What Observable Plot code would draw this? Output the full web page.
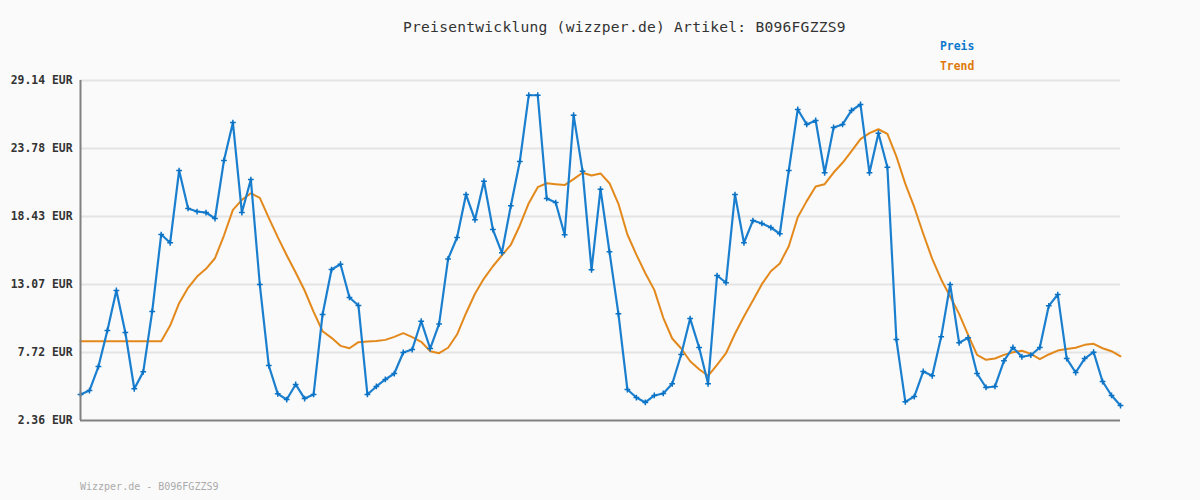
<!DOCTYPE html>
<html>
<head>
<meta charset="utf-8">
<script src="https://cdn.jsdelivr.net/npm/d3@7"></script>
<script src="https://cdn.jsdelivr.net/npm/@observablehq/plot@0.6"></script>
<style>
  html, body { margin: 0; padding: 0; background: #fafafa; }
  #wrap { position: relative; width: 1200px; height: 500px; background: #fafafa; font-family: "DejaVu Sans Mono", monospace; }
  .t { position: absolute; white-space: nowrap; line-height: 1; }
  #title { left: 403px; top: 20px; font-size: 14.6px; letter-spacing: 0.25px; color: #333; }
  #lp { left: 940px; top: 41px; font-size: 11.4px; font-weight: bold; color: #0a78cc; }
  #lt { left: 940px; top: 61px; font-size: 11.4px; font-weight: bold; color: #df7a0a; }
  #foot { left: 80px; top: 482px; font-size: 10px; color: #aaa; }
  #chart { position: absolute; left: 0; top: 0; }
</style>
</head>
<body>
<div id="wrap">
  <div id="chart"></div>
  <div class="t" id="title">Preisentwicklung (wizzper.de) Artikel: B096FGZZS9</div>
  <div class="t" id="lp">Preis</div>
  <div class="t" id="lt">Trend</div>
  <div class="t" id="foot">Wizzper.de - B096FGZZS9</div>
</div>
<script>
const yTicks = [2.36, 7.72, 13.07, 18.43, 23.78, 29.14];

const preis = [
  4.41, 4.72, 6.61, 9.45, 12.6, 9.29, 4.86, 6.19, 10.95, 17.01,
  16.36, 22.05, 19.06, 18.82, 18.74, 18.27, 22.84, 25.83, 18.74, 21.34,
  13.07, 6.69, 4.46, 4.01, 5.20, 4.09, 4.41, 10.71, 14.25, 14.67,
  12.05, 11.42, 4.41, 5.04, 5.59, 6.06, 7.72, 7.95, 10.18, 8.03,
  9.97, 15.09, 16.77, 20.16, 18.17, 21.21, 17.40, 15.57, 19.27, 22.76,
  27.98, 27.98, 19.85, 19.53, 16.99, 26.41, 22.0, 14.23, 20.58, 15.65,
  10.76, 4.80, 4.17, 3.78, 4.33, 4.49, 5.25, 7.56, 10.39, 8.11,
  5.25, 13.78, 13.21, 20.16, 16.36, 18.11, 17.88, 17.56, 17.07, 22.05,
  26.86, 25.68, 25.99, 21.87, 25.44, 25.68, 26.78, 27.25, 21.87, 24.99,
  22.31, 8.74, 3.83, 4.25, 6.22, 5.88, 8.95, 13.07, 8.48, 8.87,
  6.06, 4.96, 5.04, 7.06, 8.11, 7.38, 7.50, 8.11, 11.39, 12.28,
  7.24, 6.14, 7.24, 7.74, 5.43, 4.33, 3.54
];

const trend = [
  8.61, 8.61, 8.61, 8.61, 8.61, 8.61, 8.61, 8.61, 8.61, 8.61,
  9.84, 11.60, 12.81, 13.70, 14.31, 15.14, 16.93, 18.95, 19.74, 20.26,
  19.90, 18.32, 16.80, 15.38, 14.02, 12.60, 10.92, 9.39, 8.87, 8.24,
  8.05, 8.53, 8.58, 8.62, 8.71, 8.95, 9.24, 8.92, 8.56, 7.82,
  7.66, 8.09, 9.13, 10.81, 12.34, 13.54, 14.51, 15.36, 16.20, 17.72,
  19.48, 20.74, 21.05, 20.97, 20.90, 21.37, 21.87, 21.66, 21.82, 21.05,
  19.43, 17.01, 15.43, 13.96, 12.65, 10.45, 8.82, 8.03, 7.03, 6.40,
  5.88, 6.75, 7.66, 9.19, 10.55, 11.81, 13.10, 14.12, 14.73, 16.09,
  18.37, 19.64, 20.79, 20.97, 21.89, 22.66, 23.57, 24.52, 24.99, 25.30,
  24.94, 23.16, 21.0, 19.16, 17.07, 15.09, 13.47, 12.13, 10.76, 9.11,
  7.53, 7.14, 7.24, 7.53, 7.74, 7.85, 7.61, 7.19, 7.56, 7.87,
  8.00, 8.09, 8.32, 8.40, 8.05, 7.82, 7.42
];

const rowsP = preis.map((v, i) => ({i, v}));
const rowsT = trend.map((v, i) => ({i, v}));

const chart = Plot.plot({
  width: 1200,
  height: 500,
  marginLeft: 80,
  marginRight: 80,
  marginTop: 80,
  marginBottom: 80,
  style: {background: "#fafafa", fontFamily: "DejaVu Sans Mono, monospace", overflow: "visible"},
  x: {domain: [0, preis.length - 1], axis: null},
  y: {domain: [2.36, 29.14], axis: null},
  marks: [
    Plot.ruleY(yTicks.slice(1), {stroke: "#e4e4e4", strokeWidth: 2}),
    Plot.axisY(yTicks, {
      tickSize: 0, tickPadding: 8,
      tickFormat: d => d.toFixed(2) + " EUR",
      fontSize: 11.4, fontWeight: "bold", fill: "#333", label: null
    }),
    Plot.line(rowsT, {x: "i", y: "v", stroke: "#e3891c", strokeWidth: 2}),
    Plot.line(rowsP, {x: "i", y: "v", stroke: "#1b7fcf", strokeWidth: 2.2}),
    Plot.dot(rowsP, {x: "i", y: "v", symbol: "plus", r: 2, stroke: "#0a72c4", strokeWidth: 1.5}),
    Plot.ruleX([0], {stroke: "#808080", strokeWidth: 2, y1: 2.36, y2: 29.14}),
    Plot.ruleY([2.36], {stroke: "#808080", strokeWidth: 2})
  ]
});
document.getElementById("chart").appendChild(chart);
</script>
</body>
</html>
